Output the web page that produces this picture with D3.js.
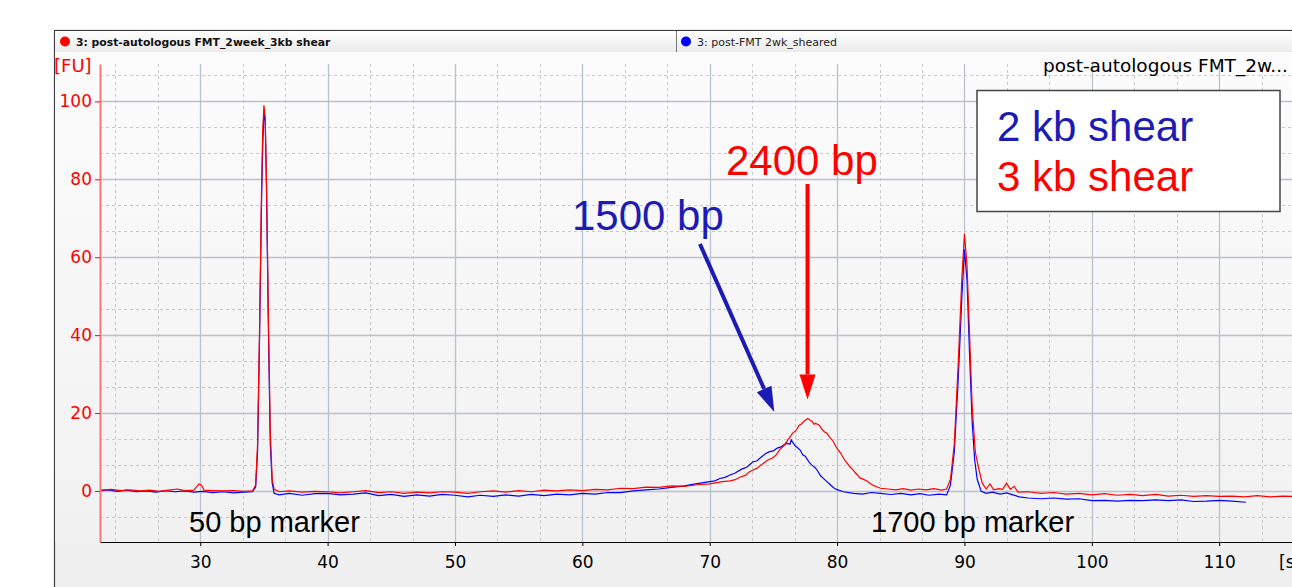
<!DOCTYPE html>
<html>
<head>
<meta charset="utf-8">
<title>Electropherogram</title>
<script src="https://cdn.jsdelivr.net/npm/d3@7"></script>
<style>
  body { margin: 0; background: #ffffff; }
  svg { display: block; }
</style>
</head>
<body>
<div id="chart"></div>
<script>
// tab titles
var tabTitles = ["3: post-autologous FMT_2week_3kb shear", "3: post-FMT 2wk_sheared"];
var sampleTitle = "post-autologous FMT_2w...";
var legendLabels = ["2 kb shear", "3 kb shear"];

// tick labels
var xTicks = [30, 40, 50, 60, 70, 80, 90, 100, 110];
var yTicks = [0, 20, 40, 60, 80, 100];

// 3 kb shear trace (red): [time s, FU]
var red3kb = [
  [22.2, 0.2], [23.0, 0.4], [23.8, 0.1], [24.5, 0.3], [25.3, 0.0], [26.0, 0.2], [26.8, -0.1], [27.5, 0.2],
  [28.2, 0.5], [28.8, 0.1], [29.5, 0.2], [29.9, 1.8], [30.1, 1.5], [30.3, 0.2], [31.0, 0.1], [31.8, 0.0],
  [32.6, 0.1], [33.4, -0.1], [34.1, 0.0], [34.35, 1.5], [34.5, 12], [34.65, 40], [34.8, 75], [34.9, 92],
  [35.0, 99], [35.1, 96], [35.2, 80], [35.35, 45], [35.5, 15], [35.65, 3], [35.8, 0.5], [36.2, -0.2],
  [37, 0.0], [38, -0.3], [39, -0.1], [40, -0.2], [41, -0.5], [42, -0.2], [43, 0.1], [44, -0.4], [45, -0.2],
  [46, -0.6], [47, -0.3], [48, -0.5], [49, -0.2], [50, -0.3], [51, -0.6], [52, -0.2], [53, 0.0], [54, -0.3],
  [55, 0.1], [56, -0.2], [57, 0.2], [58, 0.0], [59, 0.3], [60, 0.1], [61, 0.4], [62, 0.3], [63, 0.7],
  [64, 0.6], [65, 1.0], [66, 0.9], [67, 1.3], [68, 1.2], [69, 1.6], [70, 1.8], [71, 2.4], [71.6, 2.6],
  [72, 2.9], [72.4, 3.6], [72.8, 4.0], [73.1, 4.9], [73.4, 5.4], [73.7, 5.8], [74.0, 6.6], [74.3, 7.3],
  [74.6, 8.0], [74.9, 8.4], [75.2, 9.2], [75.5, 10.6], [75.8, 11.5], [76.1, 12.9], [76.5, 14.8],
  [76.8, 15.6], [77.0, 16.8], [77.2, 17.2], [77.4, 17.9], [77.7, 18.6], [77.9, 18.1], [78.0, 18.0],
  [78.2, 17.1], [78.3, 17.4], [78.6, 16.9], [78.8, 15.9], [79.0, 15.2], [79.2, 14.8], [79.4, 13.9],
  [79.7, 12.7], [79.9, 11.4], [80.1, 10.5], [80.3, 9.6], [80.5, 8.4], [80.8, 7.1], [81.0, 6.2], [81.2, 5.6],
  [81.4, 4.8], [81.6, 4.1], [81.8, 3.3], [82.0, 3.1], [82.3, 2.6], [82.5, 2.2], [82.8, 1.5], [83.1, 1.1],
  [83.4, 0.7], [84, 0.5], [84.6, 0.3], [85.2, 0.6], [85.8, 0.2], [86.4, 0.5], [87, 0.3], [87.6, 0.6],
  [88.2, 0.2], [88.6, 0.5], [88.9, 3], [89.2, 12], [89.5, 32], [89.8, 55], [90.0, 66], [90.2, 58],
  [90.4, 40], [90.6, 22], [90.85, 10], [91.1, 6], [91.4, 2], [91.7, 0.5], [92.0, 1.8], [92.3, 0.3],
  [92.7, 0.6], [93.0, 0.4], [93.3, 2.0], [93.6, 0.4], [93.9, 1.2], [94.2, -0.3], [95, -0.2], [96, -0.6],
  [97, -0.4], [98, -0.8], [99, -0.6], [100, -1.0], [101, -0.7], [102, -1.1], [103, -0.9], [104, -1.2],
  [105, -0.9], [106, -1.3], [107, -1.1], [108, -1.4], [109, -1.2], [110, -1.4], [111, -1.3], [112, -1.5],
  [113, -1.2], [114, -1.5], [115, -1.3], [116, -1.4]
];

// 2 kb shear trace (blue): [time s, FU]
var blue2kb = [
  [22.2, 0.1], [22.8, 0.3], [23.5, -0.1], [24.2, 0.2], [25, -0.2], [25.8, 0.0], [26.5, -0.3], [27.3, 0.1],
  [28, -0.2], [28.8, 0.0], [29.5, -0.3], [30.2, -0.1], [31, -0.4], [31.8, -0.2], [32.6, -0.5], [33.4, -0.3],
  [34.1, -0.2], [34.35, 1.0], [34.5, 10], [34.65, 38], [34.8, 72], [34.9, 88], [35.0, 97], [35.1, 95],
  [35.2, 78], [35.35, 42], [35.5, 12], [35.65, 2], [35.8, -0.6], [36.2, -1.0], [37, -0.6], [38, -1.1],
  [39, -0.7], [40, -0.6], [41, -1.0], [42, -0.8], [43, -0.5], [44, -1.2], [45, -0.9], [46, -1.4], [47, -1.0],
  [48, -1.3], [49, -0.9], [50, -1.1], [51, -1.5], [52, -1.1], [53, -1.4], [54, -1.0], [55, -1.3], [56, -0.9],
  [57, -1.2], [58, -0.8], [59, -1.0], [60, -0.6], [61, -0.8], [62, -0.4], [63, -0.4], [64, 0.0], [65, 0.3],
  [66, 0.5], [67, 0.9], [68, 1.3], [69, 1.9], [70, 2.4], [70.4, 2.6], [70.8, 3.2], [71.2, 3.5], [71.6, 4.1],
  [72.0, 4.6], [72.5, 5.6], [72.9, 6.1], [73.4, 7.5], [73.7, 7.7], [74.0, 8.6], [74.4, 9.6], [74.7, 10.1],
  [75.0, 10.3], [75.3, 11.0], [75.6, 11.3], [75.8, 11.8], [76.1, 12.2], [76.3, 12.0], [76.4, 13.1],
  [76.7, 11.6], [76.9, 11.1], [77.1, 10.5], [77.3, 9.3], [77.5, 8.9], [77.8, 7.4], [78.0, 6.7], [78.3, 5.9],
  [78.5, 5.0], [78.7, 3.9], [78.9, 3.3], [79.2, 2.4], [79.4, 1.8], [79.7, 0.9], [79.95, 0.4], [80.5, -0.2],
  [81.3, -0.6], [82, -0.8], [82.7, -0.4], [83.4, -0.6], [84.2, -0.9], [85, -0.6], [85.8, -1.0], [86.5, -0.7],
  [87.2, -1.1], [88, -0.8], [88.6, -1.0], [88.9, 1.5], [89.2, 10], [89.5, 28], [89.8, 50], [90.0, 62],
  [90.2, 54], [90.4, 35], [90.6, 18], [90.8, 8], [91.0, 3], [91.3, 0], [91.7, -0.6], [92.2, -0.3],
  [92.8, -0.8], [93.3, -0.5], [93.8, -1.0], [94.3, -1.5], [95, -1.8], [96, -2.0], [97, -1.8], [98, -2.1],
  [99, -2.0], [100, -2.5], [101, -2.4], [102, -2.6], [103, -2.4], [104, -2.5], [105, -2.3], [106, -2.5],
  [107, -2.3], [108, -2.7], [109, -2.6], [110, -2.4], [111, -2.6], [112.1, -2.9]
];

// annotations: label, arrow from [s, FU] to [s, FU]
var peakNotes = [
  { text: "1500 bp", color: "#1c1cb4", tx: 572, ty: 230, from: [69.23, 63.4], to: [75.07, 20.3] },
  { text: "2400 bp", color: "#ff0000", tx: 726, ty: 175, from: [77.68, 78.8], to: [77.68, 23.5] }
];
var markerNotes = [
  { text: "50 bp marker", tx: 189, ty: 532 },
  { text: "1700 bp marker", tx: 871, ty: 532 }
];

var width = 1292, height = 587;
var plotLeft = 100, plotTop = 64, plotBottom = 542, plotRight = 1302;

var svg = d3.select("#chart").append("svg")
  .attr("width", width)
  .attr("height", height);

var defs = svg.append("defs");
var bg = defs.append("linearGradient").attr("id", "plotbg").attr("x1", 0).attr("y1", 0).attr("x2", 0).attr("y2", 1);
bg.append("stop").attr("offset", "0%").attr("stop-color", "#fcfcfc");
bg.append("stop").attr("offset", "100%").attr("stop-color", "#f1f1f1");
var hd = defs.append("linearGradient").attr("id", "headbg").attr("x1", 0).attr("y1", 0).attr("x2", 0).attr("y2", 1);
hd.append("stop").attr("offset", "0%").attr("stop-color", "#ffffff");
hd.append("stop").attr("offset", "100%").attr("stop-color", "#ebebeb");

// outer frame
svg.append("rect")
  .attr("x", 54.5).attr("y", 30.5).attr("width", 1300).attr("height", 600)
  .attr("fill", "#f0f0f0").attr("stroke", "#3c3c3c").attr("stroke-width", 1.2);

// tab header
svg.append("rect").attr("x", 55).attr("y", 31).attr("width", 1300).attr("height", 21).attr("fill", "url(#headbg)");
svg.append("line").attr("x1", 676.5).attr("x2", 676.5).attr("y1", 31).attr("y2", 52).attr("stroke", "#777");
svg.append("circle").attr("cx", 65).attr("cy", 41.5).attr("r", 5).attr("fill", "#ff0000");
svg.append("circle").attr("cx", 686).attr("cy", 41.5).attr("r", 5).attr("fill", "#0000ff");
svg.append("text").attr("x", 76).attr("y", 45.5)
  .style("font", "bold 10.8px 'DejaVu Sans', sans-serif").attr("fill", "#111")
  .text(tabTitles[0]);
svg.append("text").attr("x", 697).attr("y", 45.5)
  .style("font", "11px 'DejaVu Sans', sans-serif").attr("fill", "#222")
  .text(tabTitles[1]);

// plot background
svg.append("rect").attr("x", 55).attr("y", 52).attr("width", 1300).attr("height", plotBottom - 52)
  .attr("fill", "url(#plotbg)");

var x = d3.scaleLinear().domain([22.13, 116.5]).range([plotLeft, plotRight]);
var y = d3.scaleLinear().domain([-13.1, 109.6]).range([plotBottom, plotTop]);

// grid
var xMinor = d3.range(20, 117, 10 / 3).filter(function (d) {
  return d > 22.2 && Math.abs(d / 10 - Math.round(d / 10)) > 0.01;
});
var yMinor = d3.range(-20, 110, 20 / 3).filter(function (d) {
  return d > -13 && d < 109.5 && Math.abs(d / 20 - Math.round(d / 20)) > 0.01;
});
var grid = svg.append("g");
grid.selectAll(".vx").data(xMinor).enter().append("line")
  .attr("x1", function (d) { return Math.round(x(d)) + 0.5; })
  .attr("x2", function (d) { return Math.round(x(d)) + 0.5; })
  .attr("y1", plotTop).attr("y2", plotBottom)
  .attr("stroke", "#c9c9c9").attr("stroke-dasharray", "3,3");
grid.selectAll(".hy").data(yMinor).enter().append("line")
  .attr("x1", plotLeft).attr("x2", width)
  .attr("y1", function (d) { return Math.round(y(d)) + 0.5; })
  .attr("y2", function (d) { return Math.round(y(d)) + 0.5; })
  .attr("stroke", "#c9c9c9").attr("stroke-dasharray", "3,3");
grid.selectAll(".vX").data(xTicks).enter().append("line")
  .attr("x1", function (d) { return Math.round(x(d)) + 0.5; })
  .attr("x2", function (d) { return Math.round(x(d)) + 0.5; })
  .attr("y1", plotTop).attr("y2", plotBottom)
  .attr("stroke", "#b9c0cf").attr("stroke-width", 1.3);
grid.selectAll(".hY").data(yTicks).enter().append("line")
  .attr("x1", plotLeft).attr("x2", width)
  .attr("y1", function (d) { return Math.round(y(d)) + 0.5; })
  .attr("y2", function (d) { return Math.round(y(d)) + 0.5; })
  .attr("stroke", "#b9c0cf").attr("stroke-width", 1.3);

// traces
var line = d3.line()
  .x(function (d) { return x(d[0]); })
  .y(function (d) { return y(d[1]); });
svg.append("path").datum(blue2kb).attr("d", line)
  .attr("fill", "none").attr("stroke", "#0000ff").attr("stroke-width", 1.2);
svg.append("path").datum(red3kb).attr("d", line)
  .attr("fill", "none").attr("stroke", "#ff0000").attr("stroke-width", 1.2);

// axes
var xAxis = svg.append("g")
  .attr("transform", "translate(0," + plotBottom + ")")
  .call(d3.axisBottom(x).tickValues(xTicks).tickSize(4).tickSizeOuter(0).tickPadding(10));
xAxis.select(".domain").attr("stroke", "#000");
xAxis.selectAll("text").style("font", "17px 'DejaVu Sans', sans-serif").attr("fill", "#000");

var yAxis = svg.append("g")
  .attr("transform", "translate(" + plotLeft + ",0)")
  .call(d3.axisLeft(y).tickValues(yTicks).tickSize(5).tickSizeOuter(0).tickPadding(3));
yAxis.select(".domain").attr("stroke", "#f07878").attr("stroke-width", 2);
yAxis.selectAll(".tick line").attr("stroke", "#ff0000");
yAxis.selectAll("text").style("font", "17px 'DejaVu Sans', sans-serif").attr("fill", "#ff0000");

svg.append("text").attr("x", 54).attr("y", 72)
  .style("font", "18px 'DejaVu Sans', sans-serif").attr("fill", "#ff0000").text("[FU]");
svg.append("text").attr("x", 1279).attr("y", 568)
  .style("font", "17px 'DejaVu Sans', sans-serif").attr("fill", "#000").text("[s]");
svg.append("text").attr("x", 1288).attr("y", 72).attr("text-anchor", "end")
  .style("font", "18.5px 'DejaVu Sans', sans-serif").attr("fill", "#000").text(sampleTitle);

// marker labels
svg.selectAll(".marker").data(markerNotes).enter().append("text")
  .attr("x", function (d) { return d.tx; })
  .attr("y", function (d) { return d.ty; })
  .style("font", "29px 'Liberation Sans', Arial, sans-serif").attr("fill", "#000")
  .text(function (d) { return d.text; });

// peak arrows
peakNotes.forEach(function (n) {
  var x1 = x(n.from[0]), y1 = y(n.from[1]), x2 = x(n.to[0]), y2 = y(n.to[1]);
  var ang = Math.atan2(y2 - y1, x2 - x1);
  var headLen = 25, headW = 8;
  var bx = x2 - headLen * Math.cos(ang), by = y2 - headLen * Math.sin(ang);
  svg.append("line").attr("x1", x1).attr("y1", y1).attr("x2", bx).attr("y2", by)
    .attr("stroke", n.color).attr("stroke-width", 4);
  var px = -Math.sin(ang) * headW, py = Math.cos(ang) * headW;
  svg.append("polygon")
    .attr("points", [[x2, y2], [bx + px, by + py], [bx - px, by - py]].map(function (p) { return p.join(","); }).join(" "))
    .attr("fill", n.color);
  svg.append("text").attr("x", n.tx).attr("y", n.ty)
    .style("font", "42px 'Liberation Sans', Arial, sans-serif").attr("fill", n.color)
    .text(n.text);
});

// legend box
svg.append("rect").attr("x", 977).attr("y", 90.5).attr("width", 303).attr("height", 121)
  .attr("fill", "#ffffff").attr("stroke", "#444").attr("stroke-width", 1.5);
svg.selectAll(".leg").data(legendLabels).enter().append("text")
  .attr("x", 997)
  .attr("y", function (d, i) { return 141 + i * 50; })
  .style("font", "42px 'Liberation Sans', Arial, sans-serif")
  .attr("fill", function (d, i) { return i === 0 ? "#1c1cb4" : "#ff0000"; })
  .text(function (d) { return d; });
</script>
</body>
</html>
